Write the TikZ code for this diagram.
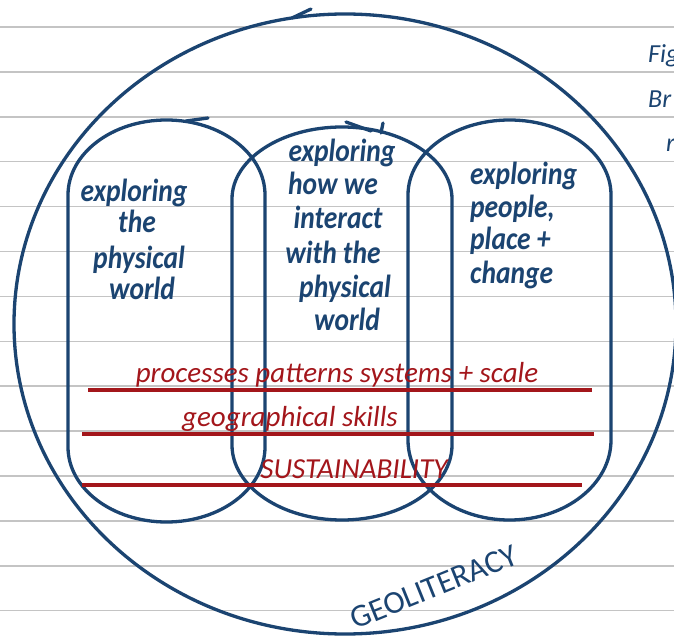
\documentclass[tikz,border=0pt]{standalone}
\usepackage{fontspec}
\usepackage{graphicx}
\setmainfont{Carlito}
\definecolor{navy}{HTML}{1B4471}
\definecolor{redink}{HTML}{A3161B}
\definecolor{paper}{HTML}{C4C4C4}
\newcommand{\hand}[1]{\scalebox{0.86}[1]{#1}}
\begin{document}
\begin{tikzpicture}[x=1pt,y=-1pt,
  ink/.style={draw=navy, line width=3.3pt},
  redrule/.style={draw=redink, line width=3.4pt},
  paperrule/.style={draw=paper, line width=1.5pt},
  bluetxt/.style={text=navy, font=\fontsize{32}{34}\selectfont\bfseries\itshape, inner sep=0pt, anchor=base},
  bluetxtw/.style={bluetxt, anchor=base west},
  redtxt/.style={text=redink, font=\fontsize{29}{31}\selectfont\itshape, inner sep=0pt, anchor=base},
  edgetxt/.style={text=navy, font=\fontsize{26}{28}\selectfont\itshape, inner sep=0pt, anchor=base west},
]
\useasboundingbox (0,0) rectangle (674,636);
\fill[white] (0,0) rectangle (674,636);
% lined paper
\foreach \k in {0,...,13} \draw[paperrule] (0,{27+44.9*\k}) -- (674,{27+44.9*\k});

% outer circle
\draw[ink] (345,324) ellipse [x radius=331, y radius=310];
\draw[ink, line cap=round] (292,18) -- (311,9);

% three ovals
\draw[ink] (68,195) arc[start angle=180,end angle=360,x radius=98.5,y radius=75]
  -- (265,447) arc[start angle=0,end angle=180,x radius=98.5,y radius=75] -- cycle;
\draw[ink] (232,199) arc[start angle=180,end angle=360,x radius=110,y radius=72]
  -- (452,445) arc[start angle=0,end angle=180,x radius=110,y radius=75] -- cycle;
\draw[ink] (408,195) arc[start angle=180,end angle=360,x radius=101.5,y radius=75]
  -- (611,440) arc[start angle=0,end angle=180,x radius=101.5,y radius=80] -- cycle;
% pen ticks
\draw[ink, line cap=round] (186,121) -- (208,118);
\draw[ink, line cap=round] (346,122) -- (371,131);
\draw[ink, line cap=round] (383,123) -- (381,133);

% red rules
\draw[redrule] (88,390) -- (592,390);
\draw[redrule] (82,434) -- (594,434);
\draw[redrule] (82,485) -- (582,485);

% left oval text
\node[bluetxt] (l1) at (134,202) {\hand{exploring}};
\node[bluetxt] (l2) at (137,233) {\hand{the}};
\node[bluetxt] (l3) at (139,268) {\hand{physical}};
\node[bluetxt] (l4) at (142,299) {\hand{world}};
% middle oval text
\node[bluetxt] (m1) at (342,162) {\hand{exploring}};
\node[bluetxt] (m2) at (333,195) {\hand{how we}};
\node[bluetxt] (m3) at (338,229) {\hand{interact}};
\node[bluetxt] (m4) at (333,263) {\hand{with the}};
\node[bluetxt] (m5) at (345,297) {\hand{physical}};
\node[bluetxt] (m6) at (347,330) {\hand{world}};
% right oval text
\node[bluetxtw] (r1) at (470,185) {\hand{exploring}};
\node[bluetxtw] (r2) at (470,218) {\hand{people,}};
\node[bluetxtw] (r3) at (470,250) {\hand{place +}};
\node[bluetxtw] (r4) at (470,283) {\hand{change}};

% red text
\node[redtxt] (pps) at (337,382) {processes patterns systems + scale};
\node[redtxt] (gs) at (290,426) {geographical skills};
\node[redtxt] (sus) at (354,478) {SUSTAINABILITY};

% circle label
\node[text=navy, font=\fontsize{32}{34}\selectfont, inner sep=0pt, rotate=22] (geo) at (434,587) {GEOLITERACY};

% clipped page text at right edge
\node[edgetxt] (e1) at (648,63) {Fig};
\node[edgetxt] (e2) at (648,108) {Br};
\node[edgetxt] (e3) at (666,152) {r};
\end{tikzpicture}
\end{document}
